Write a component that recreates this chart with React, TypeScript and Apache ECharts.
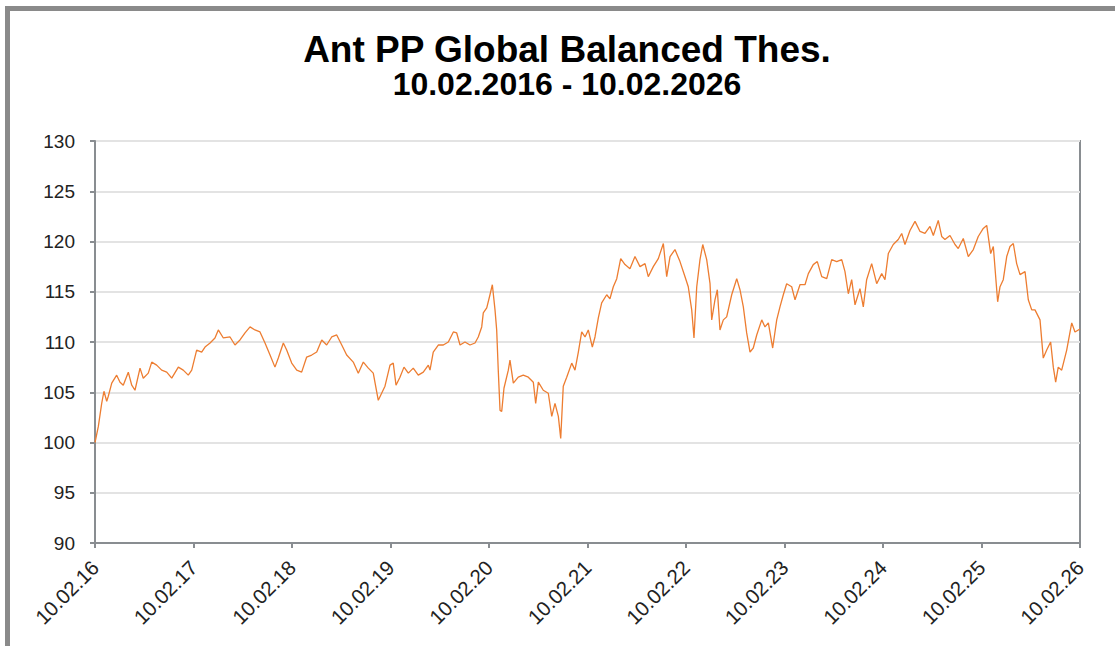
import React, { useEffect, useRef } from "react";
import * as echarts from "echarts";

// Years elapsed since 10.02.2016 (x) and fund value (y)
const yearsSinceStart: number[] = [
  0, 0.034, 0.068, 0.091, 0.119, 0.135, 0.17, 0.22, 0.254, 0.287, 0.338, 0.373, 0.406, 0.457, 0.49,
  0.541, 0.576, 0.626, 0.677, 0.728, 0.779, 0.846, 0.896, 0.947, 0.982, 1.032, 1.083, 1.117, 1.168,
  1.218, 1.252, 1.303, 1.371, 1.421, 1.472, 1.523, 1.574, 1.624, 1.675, 1.726, 1.777, 1.827, 1.861,
  1.912, 1.946, 1.997, 2.048, 2.098, 2.149, 2.2, 2.251, 2.302, 2.352, 2.403, 2.454, 2.505, 2.555,
  2.622, 2.673, 2.724, 2.775, 2.825, 2.876, 2.944, 2.995, 3.028, 3.056, 3.096, 3.137, 3.181, 3.231,
  3.282, 3.333, 3.384, 3.401, 3.434, 3.485, 3.536, 3.587, 3.638, 3.672, 3.706, 3.756, 3.807, 3.858,
  3.891, 3.926, 3.942, 3.977, 4.01, 4.034, 4.061, 4.078, 4.094, 4.112, 4.129, 4.152, 4.196, 4.213,
  4.247, 4.297, 4.348, 4.399, 4.45, 4.474, 4.501, 4.551, 4.602, 4.637, 4.67, 4.704, 4.728, 4.754,
  4.789, 4.84, 4.873, 4.907, 4.941, 4.975, 5.008, 5.049, 5.076, 5.11, 5.144, 5.195, 5.228, 5.262,
  5.297, 5.337, 5.381, 5.431, 5.482, 5.533, 5.584, 5.617, 5.668, 5.719, 5.77, 5.804, 5.838, 5.888,
  5.939, 5.99, 6.023, 6.058, 6.081, 6.109, 6.142, 6.17, 6.21, 6.244, 6.261, 6.294, 6.318, 6.345,
  6.379, 6.413, 6.464, 6.515, 6.548, 6.582, 6.616, 6.65, 6.683, 6.718, 6.769, 6.802, 6.836, 6.88,
  6.921, 6.954, 6.988, 7.022, 7.073, 7.107, 7.157, 7.208, 7.242, 7.292, 7.333, 7.378, 7.429, 7.479,
  7.53, 7.581, 7.614, 7.648, 7.682, 7.716, 7.766, 7.8, 7.834, 7.885, 7.936, 7.987, 8.02, 8.054,
  8.104, 8.155, 8.19, 8.223, 8.274, 8.325, 8.376, 8.426, 8.477, 8.511, 8.561, 8.596, 8.629, 8.68,
  8.731, 8.764, 8.815, 8.866, 8.917, 8.967, 9.018, 9.053, 9.093, 9.12, 9.164, 9.188, 9.221, 9.256,
  9.289, 9.323, 9.357, 9.391, 9.442, 9.475, 9.51, 9.543, 9.594, 9.627, 9.662, 9.702, 9.729, 9.753,
  9.779, 9.814, 9.865, 9.916, 9.949, 10.0,
];

const fundValues: number[] = [
  100.0, 101.6, 103.9, 105.1, 104.1, 104.6, 105.9, 106.7, 106.0, 105.7, 107.0, 105.7, 105.2, 107.4, 106.4,
  106.9, 108.0, 107.7, 107.2, 107.0, 106.4, 107.5, 107.2, 106.7, 107.2, 109.2, 109.0, 109.5, 109.9,
  110.4, 111.2, 110.4, 110.5, 109.7, 110.2, 110.9, 111.5, 111.2, 111.0, 109.9, 108.7, 107.5, 108.4,
  109.9, 109.2, 107.9, 107.2, 107.0, 108.5, 108.7, 109.0, 110.2, 109.7, 110.5, 110.7, 109.7, 108.7,
  108.0, 106.9, 108.0, 107.4, 106.9, 104.2, 105.6, 107.7, 107.9, 105.7, 106.5, 107.5, 106.9, 107.4,
  106.7, 107.0, 107.7, 107.2, 109.0, 109.7, 109.7, 110.0, 111.0, 110.9, 109.7, 110.0, 109.7, 109.9,
  110.5, 111.5, 112.9, 113.4, 114.7, 115.7, 113.2, 111.2, 107.2, 103.2, 103.1, 105.4, 107.2, 108.2,
  105.9, 106.5, 106.7, 106.5, 106.0, 103.9, 106.0, 105.2, 104.9, 102.6, 103.9, 102.6, 100.4, 105.6,
  106.5, 107.9, 107.2, 109.0, 111.0, 110.5, 111.2, 109.5, 110.5, 112.4, 113.9, 114.7, 114.3, 115.5,
  116.3, 118.3, 117.7, 117.3, 118.5, 117.5, 117.8, 116.5, 117.5, 118.3, 119.8, 116.5, 118.5, 119.2,
  118.0, 116.5, 115.5, 113.2, 110.4, 115.5, 118.2, 119.7, 118.2, 115.8, 112.2, 114.2, 115.2, 111.2,
  112.2, 112.5, 114.7, 116.3, 115.2, 113.5, 110.9, 109.0, 109.4, 110.7, 112.2, 111.5, 111.9, 109.4,
  112.2, 113.5, 114.7, 115.8, 115.5, 114.2, 115.7, 115.7, 116.8, 117.7, 118.0, 116.5, 116.3, 118.2,
  118.0, 118.2, 117.0, 114.8, 116.2, 113.7, 115.3, 113.5, 116.2, 117.8, 115.8, 116.8, 116.2, 118.8,
  119.7, 120.2, 120.8, 119.7, 121.1, 122.0, 121.0, 120.8, 121.5, 120.6, 122.1, 120.5, 120.2, 120.6,
  119.7, 119.3, 120.3, 118.5, 119.2, 120.5, 121.3, 121.6, 118.8, 119.5, 114.0, 115.5, 116.2, 118.5,
  119.5, 119.8, 117.8, 116.7, 117.0, 114.2, 113.2, 113.2, 112.2, 108.4, 109.2, 110.0, 107.5, 106.0,
  107.5, 107.2, 109.2, 111.9, 111.0, 111.3,
];

const tickLabels: string[] = [
  "10.02.16", "10.02.17", "10.02.18", "10.02.19", "10.02.20", "10.02.21",
  "10.02.22", "10.02.23", "10.02.24", "10.02.25", "10.02.26",
];

const titleText = "Ant PP Global Balanced Thes.";
const subtitleText = "10.02.2016 - 10.02.2026";

export default function App() {
  const ref = useRef<HTMLDivElement>(null);

  useEffect(() => {
    if (!ref.current) return;
    const chart = echarts.init(ref.current, undefined, { renderer: "svg" });
    const font = "'Liberation Sans', Arial, sans-serif";
    const axisGray = "#898d91";
    chart.setOption({
      animation: false,
      backgroundColor: "#ffffff",
      textStyle: { fontFamily: font },
      graphic: [
        { type: "rect", shape: { x: 5, y: 6, width: 1110, height: 5 }, style: { fill: "#8a8a8a" }, silent: true },
        { type: "rect", shape: { x: 5, y: 6, width: 5, height: 640 }, style: { fill: "#8a8a8a" }, silent: true },
        {
          type: "text",
          x: 567,
          y: 49,
          style: {
            text: titleText,
            font: `bold 37px ${font}`,
            fill: "#000000",
            textAlign: "center",
            textVerticalAlign: "middle",
          },
        },
        {
          type: "text",
          x: 567,
          y: 84,
          style: {
            text: subtitleText,
            font: `bold 32px ${font}`,
            fill: "#000000",
            textAlign: "center",
            textVerticalAlign: "middle",
          },
        },
      ],
      grid: {
        left: 95,
        top: 141,
        width: 985,
        height: 402,
        show: true,
        borderColor: axisGray,
        borderWidth: 2,
        backgroundColor: "transparent",
        containLabel: false,
        outerBoundsMode: "none",
      },
      xAxis: {
        type: "value",
        min: 0,
        max: 10,
        interval: 1,
        axisLine: { show: true, lineStyle: { color: axisGray, width: 2 } },
        axisTick: { show: true, length: 5, lineStyle: { color: axisGray, width: 2 } },
        splitLine: { show: false },
        axisLabel: {
          rotate: 45,
          margin: 21,
          fontSize: 20.5,
          color: "#222222",
          fontFamily: font,
          formatter: (v: number) => tickLabels[Math.round(v)] ?? "",
        },
      },
      yAxis: {
        type: "value",
        min: 90,
        max: 130,
        interval: 5,
        axisLine: { show: true, lineStyle: { color: axisGray, width: 2 } },
        axisTick: { show: true, length: 5, lineStyle: { color: axisGray, width: 2 } },
        splitLine: { show: true, lineStyle: { color: "#e3e3e3", width: 2 } },
        axisLabel: { margin: 20, fontSize: 19, color: "#222222", fontFamily: font },
      },
      series: [
        {
          type: "line",
          data: yearsSinceStart.map((t, i) => [t, fundValues[i]]),
          showSymbol: false,
          symbol: "none",
          lineStyle: { color: "#ed7d31", width: 1.3 },
          itemStyle: { color: "#ed7d31" },
          z: 3,
        },
      ],
    });
    return () => chart.dispose();
  }, []);

  return (
    <div
      ref={ref}
      style={{ position: "absolute", left: 0, top: 0, width: 1115, height: 646 }}
    />
  );
}
